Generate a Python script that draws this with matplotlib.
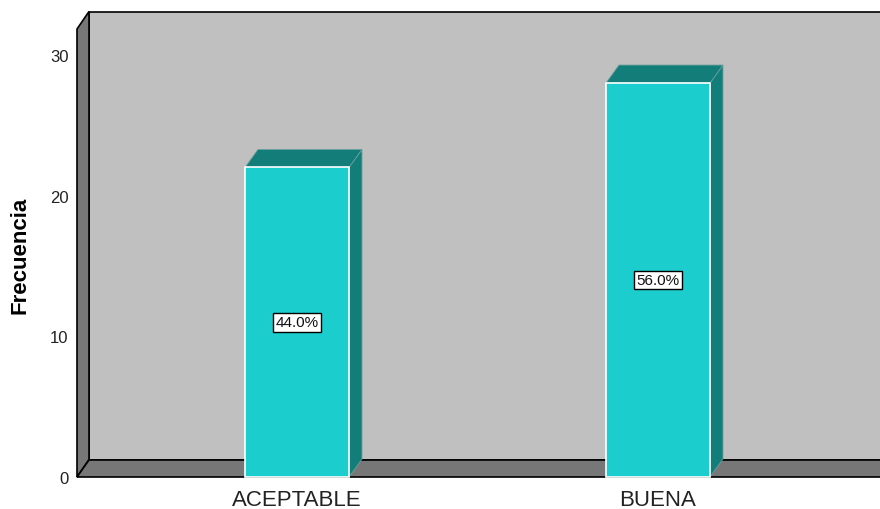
import matplotlib
matplotlib.use('Agg')
import matplotlib.pyplot as plt
from matplotlib.patches import Polygon

categories = ['ACEPTABLE', 'BUENA']
frequencies = [22, 28]
percent_labels = ['44.0%', '56.0%']
y_ticks = [0, 10, 20, 30]

plt.rcParams['font.family'] = ['Liberation Sans', 'DejaVu Sans']

W, H = 880, 510
fig = plt.figure(figsize=(8.8, 5.1), dpi=100)
left_px, right_px, bottom_px, top_px = 77, 880, 478, 55.9
ax = fig.add_axes([left_px / W, 1 - bottom_px / H,
                   (right_px - left_px) / W, (bottom_px - top_px) / H])
xs = list(range(len(categories)))
xmin, xmax = -0.6094, 1.615
ax.set_xlim(xmin, xmax)
ax.set_ylim(0, 30)
ppx = (right_px - left_px) / (xmax - xmin)
ppy = (bottom_px - top_px) / 30.0


def dxy(px, py):
    return px / ppx, py / ppy


wdx, wdy = dxy(12, 17.5)
bdx, bdy = dxy(13, 18)
ytop = 31.84
xl, xr = xmin, xmax + 0.3

wall_dark = '#777777'
back = Polygon([(xl + wdx, wdy), (xr, wdy), (xr, ytop + wdy), (xl + wdx, ytop + wdy)],
               closed=True, fc='#C0C0C0', ec='black', lw=1.2, clip_on=False, zorder=1)
left_wall = Polygon([(xl, 0), (xl + wdx, wdy), (xl + wdx, ytop + wdy), (xl, ytop)],
                    closed=True, fc=wall_dark, ec='black', lw=1.2, clip_on=False, zorder=2)
floor = Polygon([(xl, 0), (xr, 0), (xr, wdy), (xl + wdx, wdy)],
                closed=True, fc=wall_dark, ec='black', lw=1.2, clip_on=False, zorder=2)
for p in (back, left_wall, floor):
    ax.add_patch(p)

bw = 104 / ppx
side_col = '#127D79'
for xc, v in zip(xs, frequencies):
    x0, x1 = xc - bw / 2, xc + bw / 2
    side = Polygon([(x1, 0), (x1 + bdx, bdy), (x1 + bdx, v + bdy), (x1, v)],
                   closed=True, fc=side_col, ec='#6a9f9c', lw=0.6, clip_on=False, zorder=4)
    top = Polygon([(x0, v), (x0 + bdx, v + bdy), (x1 + bdx, v + bdy), (x1, v)],
                  closed=True, fc=side_col, ec='#6a9f9c', lw=0.6, clip_on=False, zorder=4)
    ax.add_patch(side)
    ax.add_patch(top)

ax.bar(xs, frequencies, width=bw, color='#1CCDCD', edgecolor='white', linewidth=1.2,
       zorder=5, clip_on=False)

for xc, v, lab in zip(xs, frequencies, percent_labels):
    ax.text(xc, v / 2, lab, ha='center', va='center', fontsize=11, color='#111111', zorder=6,
            bbox=dict(boxstyle='square,pad=0.15', fc='white', ec='black', lw=1))

for s in ax.spines.values():
    s.set_visible(False)
ax.set_yticks(y_ticks)
ax.set_xticks(xs, categories)
ax.tick_params(axis='y', length=0, pad=6, labelsize=12, labelcolor='#222222')
ax.tick_params(axis='x', length=0, pad=9, labelsize=16, labelcolor='#222222')

fig.text(20 / W, 1 - 255 / H, 'Frecuencia', rotation=90, ha='center', va='center',
         fontsize=16, fontweight='bold', color='black')

fig.savefig('out.png', dpi=100)
